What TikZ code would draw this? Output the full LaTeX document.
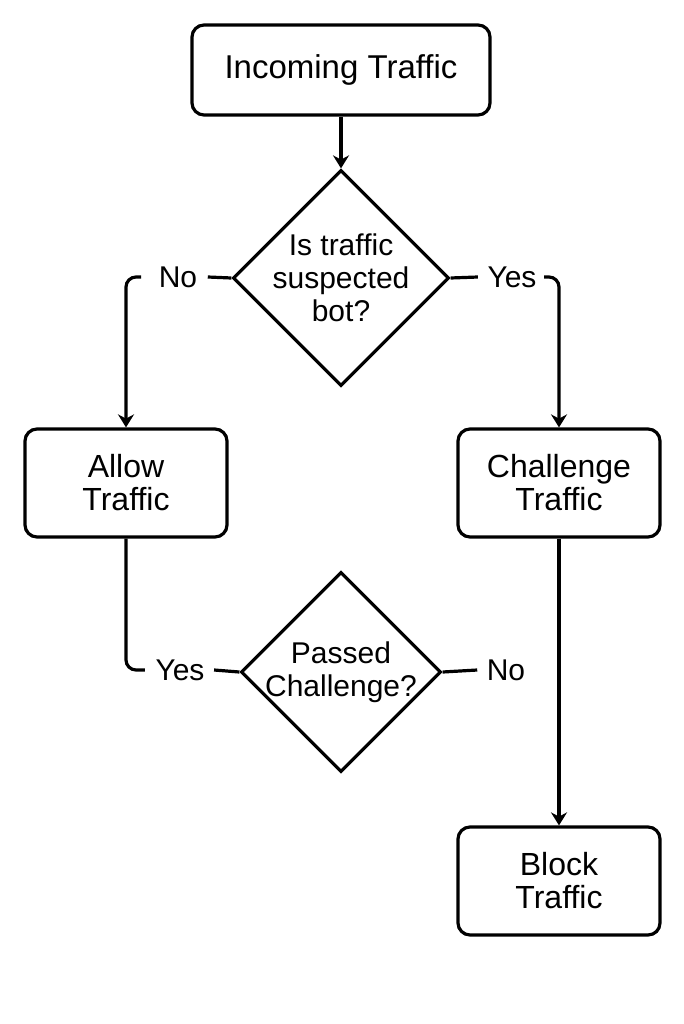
\documentclass[tikz,border=0pt]{standalone}
\usepackage{fontspec}
\setmainfont{Liberation Sans}
\usepackage{tikz}
\usetikzlibrary{arrows.meta,shapes.geometric}

\begin{document}
\begin{tikzpicture}[x=1pt,y=-1pt,line width=3.2pt,>={Stealth[length=13pt,width=16pt]},
  box/.style={rectangle,draw,rounded corners=12pt,align=center,font=\fontsize{32}{33}\selectfont},
  query/.style={diamond,draw,aspect=1,inner sep=-4pt,align=center,font=\fontsize{30}{33}\selectfont},
  lbl/.style={inner sep=0pt,font=\fontsize{30}{33}\selectfont}]
  \useasboundingbox (0,0) rectangle (683,1024);
  \node[box,minimum width=298pt,minimum height=90pt,font=\fontsize{33}{33}\selectfont] (inc) at (341,70) {Incoming Traffic};
  \node[query,minimum size=216pt] (bot) at (341,278) {Is traffic\\suspected\\bot?};
  \node[box,minimum width=202pt,minimum height=108pt] (allow) at (126,483) {Allow\\Traffic};
  \node[box,minimum width=202pt,minimum height=108pt] (chal) at (559,483) {Challenge\\Traffic};
  \node[query,minimum size=200pt] (pass) at (341,672) {Passed\\Challenge?};
  \node[box,minimum width=202pt,minimum height=108pt] (block) at (559,881) {Block\\Traffic};
  % branch labels
  \node[lbl] (no1) at (178,277) {No};
  \node[lbl] (yes1) at (512,277) {Yes};
  \node[lbl] (yes2) at (180,670) {Yes};
  \node[lbl] (no2) at (506,670) {No};
  % connectors
  \draw[->] (inc) -- (bot);
  \draw (bot.west) -- ([xshift=9pt]no1.east);
  \draw[->,rounded corners=10pt] ([xshift=-16pt]no1.west) -| (allow.north);
  \draw (bot.east) -- ([xshift=-8pt]yes1.west);
  \draw[->,rounded corners=10pt] ([xshift=6pt]yes1.east) -| (chal.north);
  \draw[rounded corners=10pt] (allow.south) |- ([xshift=-9pt]yes2.west);
  \draw ([xshift=8pt]yes2.east) -- (pass.west);
  \draw (pass.east) -- ([xshift=-8pt]no2.west);
  \draw[->] (chal) -- (block);
\end{tikzpicture}
\end{document}
